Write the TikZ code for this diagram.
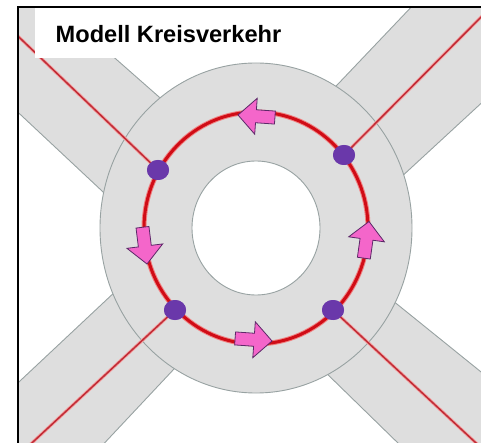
\documentclass[tikz,border=0pt]{standalone}
\usepackage{fontspec}
\setmainfont{Liberation Sans}
\usetikzlibrary{shapes.geometric}
\definecolor{roadgray}{RGB}{222,222,222}
\definecolor{edgegray}{RGB}{152,162,162}
\definecolor{redmain}{RGB}{208,12,22}
\definecolor{redlight}{RGB}{240,130,130}
\definecolor{redline}{RGB}{192,44,54}
\definecolor{redlinehalo}{RGB}{244,160,160}
\definecolor{dotpurple}{RGB}{106,56,170}
\definecolor{arrowpink}{RGB}{244,102,202}
\definecolor{arrowedge}{RGB}{92,40,104}
\newcommand\kvarrow[3]{%
  \filldraw[pinkarrow, shift={(#1,#2)}, rotate=#3]
    (0,0) -- (-18,-18) -- (-18,-6.5) -- (-37,-6.5) -- (-37,6.5) -- (-18,6.5) -- (-18,18) -- cycle;}
\begin{document}
\begin{tikzpicture}[x=1pt,y=-1pt,
  road/.style={fill=roadgray},
  roadedge/.style={draw=edgegray,line width=0.9pt},
  ringedge/.style={draw=edgegray,line width=0.9pt},
  redhalo/.style={draw=redlinehalo,line width=3.2pt},
  redcore/.style={draw=redline,line width=1.5pt},
  pinkarrow/.style={fill=arrowpink,draw=arrowedge,line width=0.8pt,line join=miter},
  dot/.style={ellipse,fill=dotpurple,minimum width=22pt,minimum height=20pt,inner sep=0pt}]
\useasboundingbox (0,0) rectangle (481,443);
\begin{scope}
\clip (17,7) rectangle (481,443);
% roads
\fill[road] (0,-43) -- (200,133) -- (180,264) -- (-40,58) -- cycle;
\draw[roadedge] (0,-43) -- (200,133);
\draw[roadedge] (-40,58) -- (180,264);
\fill[road] (456,-40) -- (300,124) -- (360,215) -- (540,49) -- cycle;
\draw[roadedge] (456,-40) -- (300,124);
\draw[roadedge] (540,49) -- (360,215);
\fill[road] (-60,456) -- (150,259) -- (220,320) -- (51,500) -- cycle;
\draw[roadedge] (-60,456) -- (150,259);
\draw[roadedge] (51,500) -- (220,320);
\fill[road] (330,250) -- (600,468) -- (440,484) -- (280,328) -- cycle;
\draw[roadedge] (330,250) -- (600,468);
\draw[roadedge] (440,484) -- (280,328);
% ring
\filldraw[fill=roadgray,ringedge] (256,228) ellipse [x radius=156pt, y radius=165pt];
\filldraw[fill=white,ringedge] (256,228) ellipse [x radius=64pt, y radius=67pt];
% red circle
\draw[draw=redlight,line width=5pt] (256,228) ellipse [x radius=112pt, y radius=116pt];
\draw[draw=redmain,line width=3pt] (256,228) ellipse [x radius=112pt, y radius=116pt];
% dots and feeder lines
\node[dot] (d1) at (158,170) {};
\node[dot] (d2) at (344,155) {};
\node[dot] (d3) at (175,310) {};
\node[dot] (d4) at (333,310) {};
\coordinate (e1) at (0,19);
\coordinate (e2) at (500,-2);
\coordinate (e3) at (20,454);
\coordinate (e4) at (490,456);
\foreach \a/\b in {d1/e1,d2/e2,d3/e3,d4/e4}{
  \draw[redhalo] (\a.center) -- (\b);
  \draw[redcore] (\a.center) -- (\b);
}
% arrows
\kvarrow{238}{115}{176}
\kvarrow{147}{264}{-83}
\kvarrow{272}{341}{-4}
\kvarrow{369}{221.5}{82}
% dots on top
\node[dot] at (d1) {};
\node[dot] at (d2) {};
\node[dot] at (d3) {};
\node[dot] at (d4) {};
% title box
\fill[white] (35,7) rectangle (300,58);
\node[anchor=base west,inner sep=0pt,font=\bfseries\fontsize{23.6}{28}\selectfont] (title) at (55.5,43) {Modell Kreisverkehr};
\end{scope}
% frame
\draw[black,line width=2.2pt] (17.7,443) -- (17.7,7) -- (481,7);
\end{tikzpicture}
\end{document}
